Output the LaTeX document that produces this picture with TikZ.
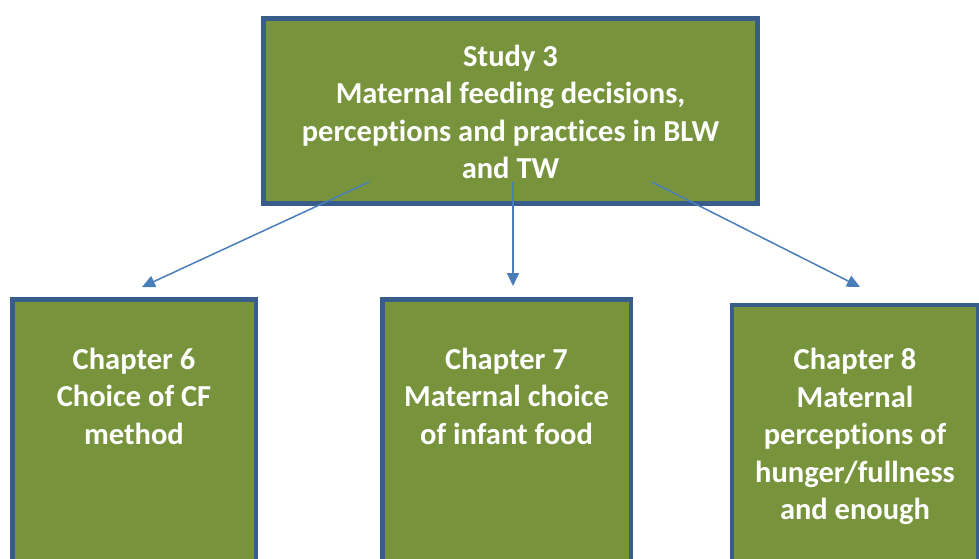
\documentclass[tikz,border=0pt]{standalone}
\usepackage{fontspec}
\setmainfont{Carlito}[Ligatures={NoCommon}]
\usetikzlibrary{arrows.meta}
\definecolor{boxgreen}{RGB}{119,147,60}
\definecolor{boxblue}{RGB}{56,93,138}
\definecolor{arrowblue}{RGB}{74,126,187}
\tikzset{
  box/.style={draw=boxblue, line width=4.5pt, fill=boxgreen, rectangle, inner sep=0pt},
  txt/.style={text=white, font=\fontsize{30.5}{37.6}\selectfont\bfseries, align=center, inner sep=0pt},
  conn/.style={draw=arrowblue, line width=1.5pt, -{Triangle[length=13pt,width=12pt]}}
}
\begin{document}
\begin{tikzpicture}[x=1pt,y=-1pt]
\useasboundingbox (0,0) rectangle (979,558);
\node[box, minimum width=494pt, minimum height=185pt] (top) at (510.5,111) {};
\node[txt] (toptxt) at (510.5,112) {Study 3\\Maternal feeding decisions,\\perceptions and practices in BLW\\and TW};
\node[box, minimum width=243.5pt, minimum height=320pt] (c6) at (134,459.5) {};
\node[box, minimum width=248.5pt, minimum height=320pt] (c7) at (506.5,459.5) {};
\node[box, minimum width=246pt, minimum height=320pt] (c8) at (855,465) {};
\node[txt] (c6txt) at (134,396) {Chapter 6\\Choice of CF\\method};
\node[txt] (c7txt) at (506.5,396) {Chapter 7\\Maternal choice\\of infant food};
\node[txt] (c8txt) at (855,436.5) {Chapter 8\\Maternal\\perceptions of\\hunger/fullness\\and enough};
\coordinate (s6) at (369,182);
\coordinate (e6) at (142,287);
\coordinate (s7) at (513,182);
\coordinate (e7) at (513,286);
\coordinate (s8) at (652,182);
\coordinate (e8) at (860,287);
\draw[conn] (s6) -- (e6);
\draw[conn] (s7) -- (e7);
\draw[conn] (s8) -- (e8);
\end{tikzpicture}
\end{document}
